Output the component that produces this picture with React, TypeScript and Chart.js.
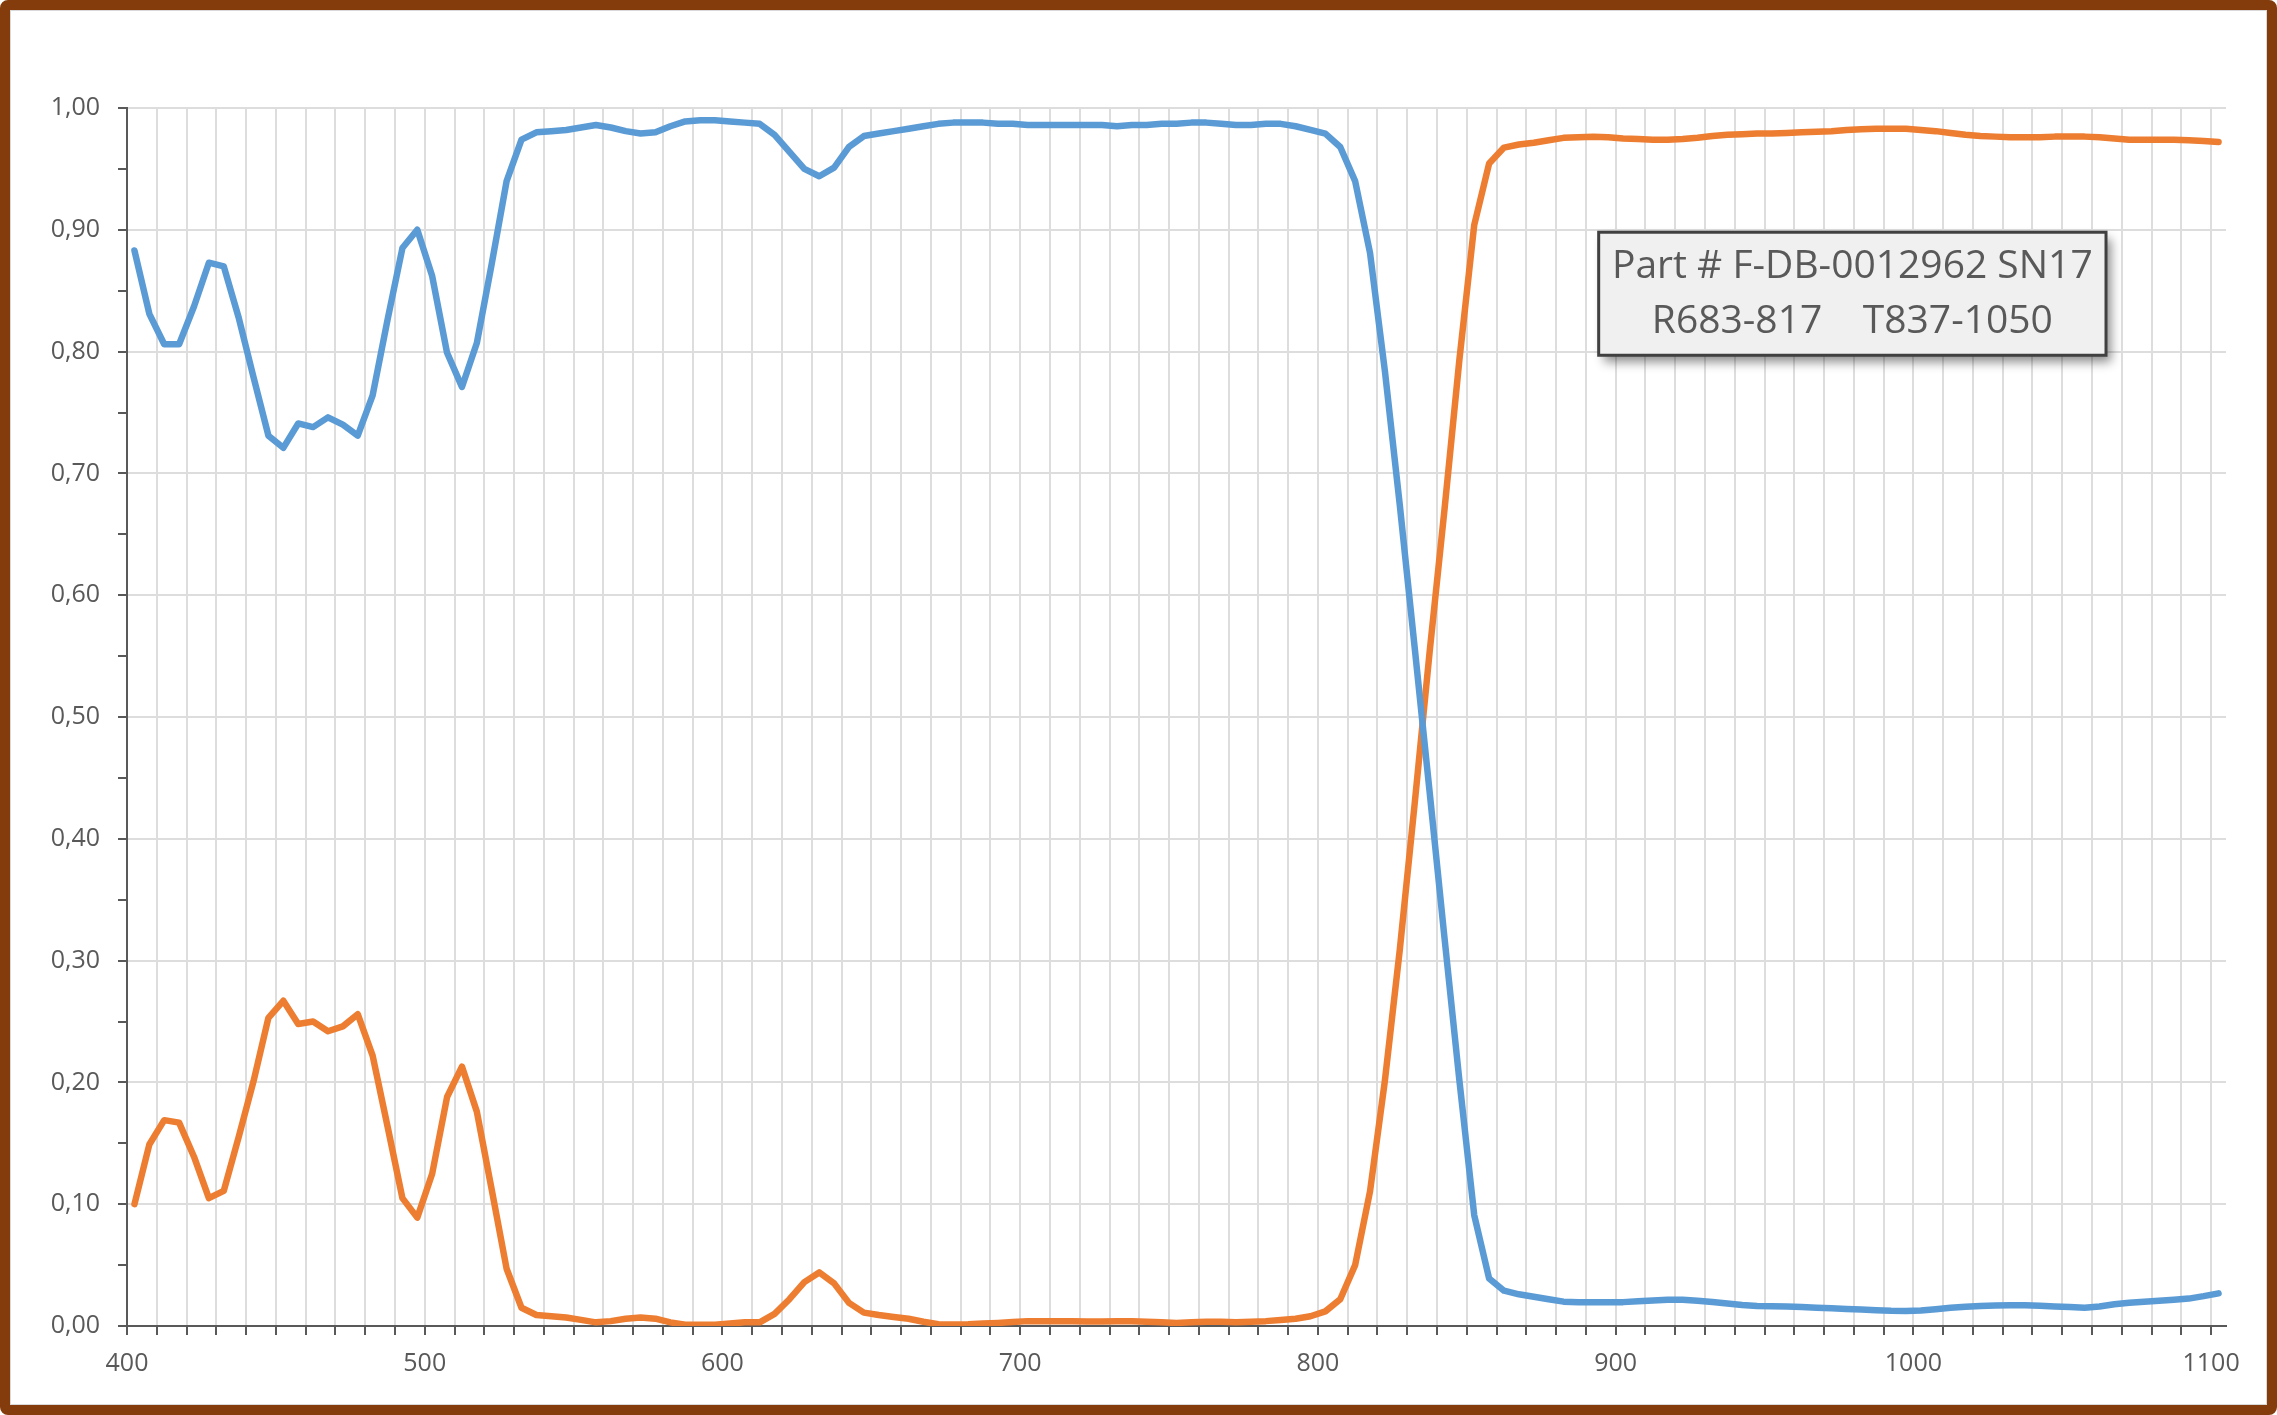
import React, { useEffect, useRef } from "react";
import { Chart, registerables } from "chart.js";

Chart.register(...registerables);

const WAVELENGTH = [
  402.5, 407.5, 412.5, 417.5, 422.5, 427.5, 432.5, 437.5, 442.5, 447.5,
  452.5, 457.5, 462.5, 467.5, 472.5, 477.5, 482.5, 487.5, 492.5, 497.5,
  502.5, 507.5, 512.5, 517.5, 522.5, 527.5, 532.5, 537.5, 542.5, 547.5,
  552.5, 557.5, 562.5, 567.5, 572.5, 577.5, 582.5, 587.5, 592.5, 597.5,
  602.5, 607.5, 612.5, 617.5, 622.5, 627.5, 632.5, 637.5, 642.5, 647.5,
  652.5, 657.5, 662.5, 667.5, 672.5, 677.5, 682.5, 687.5, 692.5, 697.5,
  702.5, 707.5, 712.5, 717.5, 722.5, 727.5, 732.5, 737.5, 742.5, 747.5,
  752.5, 757.5, 762.5, 767.5, 772.5, 777.5, 782.5, 787.5, 792.5, 797.5,
  802.5, 807.5, 812.5, 817.5, 822.5, 827.5, 832.5, 837.5, 842.5, 847.5,
  852.5, 857.5, 862.5, 867.5, 872.5, 877.5, 882.5, 887.5, 892.5, 897.5,
  902.5, 907.5, 912.5, 917.5, 922.5, 927.5, 932.5, 937.5, 942.5, 947.5,
  952.5, 957.5, 962.5, 967.5, 972.5, 977.5, 982.5, 987.5, 992.5, 997.5,
  1002.5, 1007.5, 1012.5, 1017.5, 1022.5, 1027.5, 1032.5, 1037.5, 1042.5, 1047.5,
  1052.5, 1057.5, 1062.5, 1067.5, 1072.5, 1077.5, 1082.5, 1087.5, 1092.5, 1097.5,
  1102.5,
];

const REFLECTANCE = [
  0.883, 0.831, 0.806, 0.806, 0.837, 0.873, 0.870, 0.828, 0.779, 0.731,
  0.721, 0.741, 0.738, 0.746, 0.740, 0.731, 0.764, 0.826, 0.885, 0.900,
  0.862, 0.799, 0.771, 0.807, 0.872, 0.940, 0.974, 0.980, 0.981, 0.982,
  0.984, 0.986, 0.984, 0.981, 0.979, 0.980, 0.985, 0.989, 0.990, 0.990,
  0.989, 0.988, 0.987, 0.978, 0.964, 0.950, 0.944, 0.951, 0.968, 0.977,
  0.979, 0.981, 0.983, 0.985, 0.987, 0.988, 0.988, 0.988, 0.987, 0.987,
  0.986, 0.986, 0.986, 0.986, 0.986, 0.986, 0.985, 0.986, 0.986, 0.987,
  0.987, 0.988, 0.988, 0.987, 0.986, 0.986, 0.987, 0.987, 0.985, 0.982,
  0.979, 0.968, 0.940, 0.881, 0.784, 0.674, 0.557, 0.439, 0.319, 0.202,
  0.091, 0.039, 0.029, 0.026, 0.024, 0.022, 0.020, 0.0195, 0.0194, 0.0194,
  0.0196, 0.0203, 0.021, 0.0216, 0.0215, 0.0207, 0.0197, 0.0185, 0.0173, 0.0164,
  0.0162, 0.016, 0.0155, 0.015, 0.0145, 0.014, 0.0135, 0.013, 0.0125, 0.0123,
  0.0128, 0.0138, 0.015, 0.0158, 0.0164, 0.0168, 0.0171, 0.017, 0.0166, 0.016,
  0.0155, 0.015, 0.016, 0.0178, 0.019, 0.020, 0.0207, 0.0215, 0.0225, 0.0245,
  0.0268,
];

const TRANSMITTANCE = [
  0.100, 0.149, 0.169, 0.167, 0.139, 0.105, 0.111, 0.155, 0.201, 0.253,
  0.267, 0.248, 0.250, 0.242, 0.246, 0.256, 0.222, 0.164, 0.105, 0.089,
  0.125, 0.188, 0.213, 0.176, 0.112, 0.047, 0.015, 0.009, 0.008, 0.007,
  0.005, 0.003, 0.004, 0.006, 0.007, 0.006, 0.003, 0.001, 0.001, 0.001,
  0.002, 0.003, 0.003, 0.010, 0.022, 0.036, 0.044, 0.035, 0.019, 0.011,
  0.009, 0.0074, 0.006, 0.0035, 0.0015, 0.0013, 0.0015, 0.002, 0.0025, 0.0032,
  0.004, 0.004, 0.0038, 0.0038, 0.0037, 0.0037, 0.004, 0.004, 0.0035, 0.003,
  0.0025, 0.003, 0.0035, 0.0035, 0.003, 0.0035, 0.004, 0.005, 0.006, 0.008,
  0.012, 0.022, 0.050, 0.1105, 0.2016, 0.309, 0.429, 0.553, 0.670, 0.793,
  0.904, 0.9545, 0.9675, 0.970, 0.9715, 0.9735, 0.9755, 0.976, 0.9763, 0.976,
  0.975, 0.9745, 0.974, 0.974, 0.9745, 0.9755, 0.977, 0.978, 0.9785, 0.979,
  0.979, 0.9795, 0.980, 0.9805, 0.981, 0.982, 0.9825, 0.983, 0.983, 0.983,
  0.982, 0.981, 0.9795, 0.978, 0.977, 0.9765, 0.976, 0.976, 0.976, 0.9765,
  0.9765, 0.9765, 0.976, 0.975, 0.974, 0.974, 0.974, 0.974, 0.9735, 0.973,
  0.972,
];

const NOTE_LINES = ["Part # F-DB-0012962 SN17", "R683-817    T837-1050"];

const X_MIN = 400;
const X_MAX = 1105;
const X_STEP = 10;
const X_LABEL_EVERY = 100;
const Y_MIN = 0;
const Y_MAX = 1;
const Y_STEP = 0.05;

const CANVAS_W = 2255;
const CANVAS_H = 1393;

const FONT = "'Open Sans', 'DejaVu Sans', sans-serif";
const TEXT_COLOR = "#595959";
const GRID_COLOR = "#dddddd";
const AXIS_COLOR = "#595959";

// annotation anchor (in data units)
const NOTE_BOX = { x0: 894.3, x1: 1064.7, y0: 0.898, y1: 0.797 };

const notePlugin = {
  id: "noteBox",
  afterDatasetsDraw(chart: any) {
    const { ctx, scales } = chart;
    const xs = scales.x;
    const ys = scales.y;
    const left = xs.getPixelForValue(NOTE_BOX.x0);
    const right = xs.getPixelForValue(NOTE_BOX.x1);
    const top = ys.getPixelForValue(NOTE_BOX.y0);
    const bottom = ys.getPixelForValue(NOTE_BOX.y1);
    const w = right - left;
    const h = bottom - top;
    ctx.save();
    ctx.shadowColor = "rgba(0,0,0,0.45)";
    ctx.shadowBlur = 10;
    ctx.shadowOffsetX = 5;
    ctx.shadowOffsetY = 7;
    ctx.fillStyle = "#f0f0f0";
    ctx.fillRect(left, top, w, h);
    ctx.restore();
    ctx.save();
    ctx.strokeStyle = "#404040";
    ctx.lineWidth = 3;
    ctx.strokeRect(left, top, w, h);
    ctx.fillStyle = TEXT_COLOR;
    ctx.textAlign = "center";
    ctx.textBaseline = "middle";
    const cx = left + w / 2;
    const cy = top + h / 2;
    const sizes = [39, 39];
    const offsets = [-27, 28];
    NOTE_LINES.forEach((line, i) => {
      ctx.font = `${sizes[i]}px ${FONT}`;
      ctx.fillText(line, cx, cy + offsets[i]);
    });
    ctx.restore();
  },
};

function fmtY(v: number) {
  return v.toFixed(2).replace(".", ",");
}

export default function App() {
  const canvasRef = useRef<HTMLCanvasElement | null>(null);

  useEffect(() => {
    document.body.style.margin = "0";
    const canvas = canvasRef.current;
    if (!canvas) return;
    const blue = WAVELENGTH.map((x, i) => ({ x, y: REFLECTANCE[i] }));
    const orange = WAVELENGTH.map((x, i) => ({ x, y: TRANSMITTANCE[i] }));
    const chart = new Chart(canvas, {
      type: "line",
      data: {
        datasets: [
          {
            label: "Reflectance",
            data: blue,
            borderColor: "#5B9BD5",
            backgroundColor: "#5B9BD5",
            borderWidth: 6.5,
            pointRadius: 0,
            tension: 0,
            borderCapStyle: "round",
            borderJoinStyle: "round",
          },
          {
            label: "Transmittance",
            data: orange,
            borderColor: "#ED7D31",
            backgroundColor: "#ED7D31",
            borderWidth: 6.5,
            pointRadius: 0,
            tension: 0,
            borderCapStyle: "round",
            borderJoinStyle: "round",
          },
        ],
      },
      options: {
        responsive: false,
        animation: false,
        parsing: true,
        layout: { padding: { left: 0, top: 97, right: 40, bottom: 0 } },
        plugins: {
          legend: { display: false },
          tooltip: { enabled: false },
          title: { display: false },
        },
        scales: {
          x: {
            type: "linear",
            min: X_MIN,
            max: X_MAX,
            afterFit: (scale: any) => {
              scale.height = 78;
            },
            ticks: {
              stepSize: X_STEP,
              includeBounds: false,
              autoSkip: false,
              maxRotation: 0,
              minRotation: 0,
              padding: 14,
              color: TEXT_COLOR,
              font: { family: FONT, size: 25 },
              callback: (v: any) =>
                Math.round(Number(v)) % X_LABEL_EVERY === 0 ? String(Math.round(Number(v))) : "",
            },
            grid: {
              color: GRID_COLOR,
              lineWidth: 2,
              tickColor: AXIS_COLOR,
              tickWidth: 2,
              tickLength: 9,
              drawTicks: true,
            },
            border: { display: true, color: AXIS_COLOR, width: 2 },
          },
          y: {
            type: "linear",
            min: Y_MIN,
            max: Y_MAX,
            afterFit: (scale: any) => {
              scale.width = 116;
            },
            ticks: {
              stepSize: Y_STEP,
              autoSkip: false,
              padding: 18,
              color: TEXT_COLOR,
              font: { family: FONT, size: 25 },
              callback: (v: any) => {
                const n = Math.round(Number(v) * 100);
                return n % 10 === 0 ? fmtY(n / 100) : "";
              },
            },
            grid: {
              color: (ctx: any) => {
                const n = Math.round(Number(ctx.tick?.value ?? 0) * 100);
                return n % 10 === 0 ? GRID_COLOR : "rgba(0,0,0,0)";
              },
              lineWidth: 2,
              tickColor: AXIS_COLOR,
              tickWidth: 2,
              tickLength: 9,
              drawTicks: true,
            },
            border: { display: true, color: AXIS_COLOR, width: 2 },
          },
        },
      },
      plugins: [notePlugin],
    });
    return () => chart.destroy();
  }, []);

  return (
    <div
      style={{
        position: "absolute",
        left: 0,
        top: 0,
        width: 2277,
        height: 1415,
        boxSizing: "border-box",
        border: "10px solid #843C0C",
        borderRadius: 8,
        background: "#ffffff",
        overflow: "hidden",
      }}
    >
      <div style={{ border: "1px solid #d9d9d9", width: CANVAS_W, height: CANVAS_H }}>
        <canvas
          ref={canvasRef}
          width={CANVAS_W}
          height={CANVAS_H}
          style={{ display: "block", width: CANVAS_W, height: CANVAS_H }}
        />
      </div>
    </div>
  );
}
